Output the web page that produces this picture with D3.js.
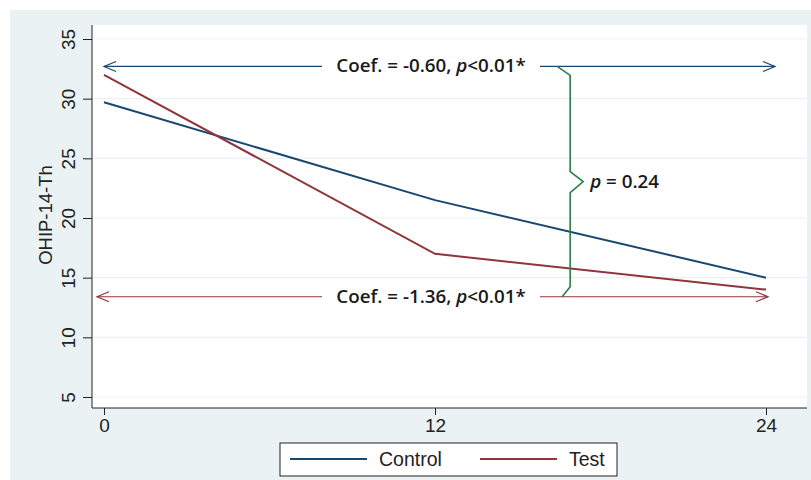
<!DOCTYPE html>
<html>
<head>
<meta charset="utf-8">
<script src="https://cdn.jsdelivr.net/npm/d3@7"></script>
<style>
  body { margin: 0; background: #fff; }
  svg text { font-family: "Liberation Sans", Arial, sans-serif; }
</style>
</head>
<body>
<div id="chart"></div>
<script>
// data
var months = [0, 12, 24];
var control = [29.7, 21.5, 15.0];
var test = [32.0, 17.0, 14.0];
var yTicks = [5, 10, 15, 20, 25, 30, 35];
var seriesNames = ['Control', 'Test'];
// annotation values
var coefControl = { y: 32.7, label: 'Coef. = -0.60, ', p: 'p', rest: '<0.01*' };
var coefTest = { y: 13.4, label: 'Coef. = -1.36, ', p: 'p', rest: '<0.01*' };
var braceX = 16.9;

var W = 811, H = 480;
var blue = '#1a476f', red = '#90353b', green = '#2c7d45';
var annFont = '"Open Sans", sans-serif';

var svg = d3.select('#chart').append('svg').attr('width', W).attr('height', H);

// outer background + plot region
svg.append('rect').attr('x', 10).attr('y', 10).attr('width', W - 10).attr('height', H - 10).attr('fill', '#eaf2f4');
svg.append('rect').attr('x', 92).attr('y', 25).attr('width', 715).attr('height', 383).attr('fill', '#fff');

var x = d3.scaleLinear().domain([0, 24]).range([104, 766]);
var y = d3.scaleLinear().domain([5, 35]).range([397, 39]);

// gridlines
svg.append('g').selectAll('line').data(yTicks).enter().append('line')
  .attr('x1', 93).attr('x2', 806)
  .attr('y1', function(d) { return y(d); }).attr('y2', function(d) { return y(d); })
  .attr('stroke', '#eaf1f4').attr('stroke-width', 1.2);

// y axis
var yAxis = svg.append('g').attr('transform', 'translate(92,0)')
  .call(d3.axisLeft(y).tickValues(yTicks).tickSize(9).tickPadding(4));
yAxis.select('.domain').attr('d', 'M0,25V408').attr('stroke', '#222');
yAxis.selectAll('.tick line').attr('stroke', '#222');
yAxis.selectAll('.tick text')
  .style('font-size', '19px').attr('fill', '#222')
  .attr('transform', 'rotate(-90)')
  .attr('x', 0).attr('y', -17).attr('dy', 0)
  .attr('text-anchor', 'middle');

svg.append('text').attr('transform', 'translate(52,215) rotate(-90)')
  .attr('text-anchor', 'middle').style('font-size', '18.5px').attr('fill', '#222')
  .text('OHIP-14-Th');

// x axis
var xAxis = svg.append('g').attr('transform', 'translate(0,408)')
  .call(d3.axisBottom(x).tickValues(months).tickSize(7).tickPadding(4).tickFormat(d3.format('d')));
xAxis.select('.domain').attr('d', 'M92,0H807').attr('stroke', '#222');
xAxis.selectAll('.tick line').attr('stroke', '#222');
xAxis.selectAll('.tick text').style('font-size', '19px').attr('fill', '#222');

// series lines
var line = d3.line()
  .x(function(d, i) { return x(months[i]); })
  .y(function(d) { return y(d); });
svg.append('path').datum(control).attr('d', line)
  .attr('fill', 'none').attr('stroke', blue).attr('stroke-width', 2);
svg.append('path').datum(test).attr('d', line)
  .attr('fill', 'none').attr('stroke', red).attr('stroke-width', 2);

// coefficient arrows with text
function arrow(c, color, x0, x1, gapL, gapR) {
  var yy = y(c.y);
  var g = svg.append('g').attr('stroke', color).attr('stroke-width', 1.2).attr('fill', 'none');
  g.append('line').attr('x1', x0).attr('x2', gapL).attr('y1', yy).attr('y2', yy);
  g.append('line').attr('x1', gapR).attr('x2', x1).attr('y1', yy).attr('y2', yy);
  g.append('path').attr('d', 'M' + (x0 + 12) + ',' + (yy - 5) + 'L' + x0 + ',' + yy + 'L' + (x0 + 12) + ',' + (yy + 5));
  g.append('path').attr('d', 'M' + (x1 - 12) + ',' + (yy - 5) + 'L' + x1 + ',' + yy + 'L' + (x1 - 12) + ',' + (yy + 5));
  var t = svg.append('text').attr('x', (gapL + gapR) / 2).attr('y', yy + 6)
    .attr('text-anchor', 'middle').style('font-size', '18.8px').attr('font-weight', 600)
    .style('font-family', annFont).attr('fill', '#1a1a1a');
  t.append('tspan').text(c.label);
  t.append('tspan').attr('font-style', 'italic').text(c.p);
  t.append('tspan').text(c.rest);
}
arrow(coefControl, blue, x(0), 775, 322, 540);
arrow(coefTest, red, 97, 768, 322, 540);

// brace between the two arrows
var bx = x(braceX), yt = y(coefControl.y), yb = y(coefTest.y), ym = (yt + yb) / 2;
svg.append('path')
  .attr('d', 'M' + (bx - 13) + ',' + yt + 'L' + bx + ',' + (yt + 9) + 'L' + bx + ',' + (ym - 10) +
    'L' + (bx + 13) + ',' + ym + 'L' + bx + ',' + (ym + 11) + 'L' + bx + ',' + (yb - 10) + 'L' + (bx - 8) + ',' + yb)
  .attr('fill', 'none').attr('stroke', green).attr('stroke-width', 1.6);
var pt = svg.append('text').attr('x', bx + 20).attr('y', ym + 6)
  .style('font-size', '18.8px').attr('font-weight', 600)
  .style('font-family', annFont).attr('fill', '#1a1a1a');
pt.append('tspan').attr('font-style', 'italic').text('p');
pt.append('tspan').text(' = 0.24');

// legend
var lg = svg.append('g');
lg.append('rect').attr('x', 280).attr('y', 443).attr('width', 337).attr('height', 33)
  .attr('fill', '#fff').attr('stroke', '#222').attr('stroke-width', 1);
var items = [{ name: seriesNames[0], color: blue, x: 290 }, { name: seriesNames[1], color: red, x: 480 }];
items.forEach(function(it) {
  lg.append('line').attr('x1', it.x).attr('x2', it.x + 77).attr('y1', 459).attr('y2', 459)
    .attr('stroke', it.color).attr('stroke-width', 2);
  lg.append('text').attr('x', it.x + 89).attr('y', 466).style('font-size', '19.5px').attr('fill', '#222').text(it.name);
});
</script>
</body>
</html>
